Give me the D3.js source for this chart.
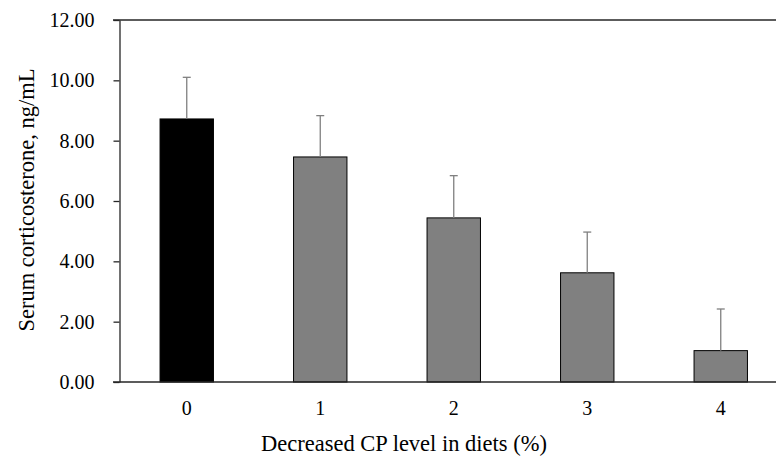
<!DOCTYPE html>
<html>
<head>
<meta charset="utf-8">
<script src="https://cdn.jsdelivr.net/npm/d3@7"></script>
<style>
  body { margin: 0; background: #fff; }
  text { font-family: "Liberation Serif", "Times New Roman", serif; fill: #000; }
</style>
</head>
<body>
<div id="chart"></div>
<script>
const categories = ['0', '1', '2', '3', '4'];
const means = [8.72, 7.46, 5.44, 3.62, 1.04];
const errors = [1.38, 1.37, 1.40, 1.35, 1.38];
const yTicks = [0, 2, 4, 6, 8, 10, 12];

const width = 776;
const height = 458;
const axisColor = '#262626';
const errColor = '#808080';
const fontSize = '20px';
const titleSize = '22.5px';

const svg = d3.select('#chart')
  .append('svg')
  .attr('width', width)
  .attr('height', height);

const xScale = d3.scaleBand()
  .domain(categories)
  .range([120, 787.5])
  .paddingInner(0.6)
  .paddingOuter(0.3);

const yScale = d3.scaleLinear()
  .domain([0, 12])
  .range([382, 20]);

// top border line at 12
svg.append('line')
  .attr('x1', 113)
  .attr('x2', width)
  .attr('y1', yScale(12))
  .attr('y2', yScale(12))
  .attr('stroke', axisColor)
  .attr('stroke-width', 1.3);

// bars
svg.append('g')
  .selectAll('rect')
  .data(means)
  .join('rect')
  .attr('x', (d, i) => xScale(categories[i]))
  .attr('y', d => yScale(d))
  .attr('width', xScale.bandwidth())
  .attr('height', d => yScale(0) - yScale(d))
  .attr('fill', (d, i) => i === 0 ? '#000000' : '#808080')
  .attr('stroke', '#000')
  .attr('stroke-width', 1);

// error bars (upper only)
const errGroup = svg.append('g')
  .attr('stroke', errColor)
  .attr('stroke-width', 1.3);

means.forEach((m, i) => {
  const cx = xScale(categories[i]) + xScale.bandwidth() / 2;
  errGroup.append('line')
    .attr('x1', cx).attr('x2', cx)
    .attr('y1', yScale(m)).attr('y2', yScale(m + errors[i]));
  errGroup.append('line')
    .attr('x1', cx - 4).attr('x2', cx + 4)
    .attr('y1', yScale(m + errors[i])).attr('y2', yScale(m + errors[i]));
});

// y axis
const yAxis = svg.append('g')
  .attr('transform', 'translate(119.5,0)')
  .call(d3.axisLeft(yScale).tickValues(yTicks).tickSize(6).tickSizeOuter(0).tickFormat(d3.format('.2f')));
yAxis.select('.domain').attr('stroke', axisColor).attr('stroke-width', 1.3);
yAxis.selectAll('line').attr('stroke', axisColor).attr('stroke-width', 1.3);
yAxis.selectAll('text')
  .attr('x', -25)
  .style('font-size', fontSize)
  .style('font-family', '"Liberation Serif", serif')
  .attr('fill', '#000');

// x axis
const xAxis = svg.append('g')
  .attr('transform', `translate(0,${yScale(0)})`)
  .call(d3.axisBottom(xScale).tickSize(0).tickSizeOuter(0));
xAxis.select('.domain').remove();
svg.append('line')
  .attr('x1', 113)
  .attr('x2', width)
  .attr('y1', yScale(0))
  .attr('y2', yScale(0))
  .attr('stroke', axisColor)
  .attr('stroke-width', 1.3);
xAxis.selectAll('text')
  .attr('y', 19)
  .style('font-size', fontSize)
  .style('font-family', '"Liberation Serif", serif')
  .attr('fill', '#000');

// axis titles
svg.append('text')
  .attr('x', 404)
  .attr('y', 451)
  .attr('text-anchor', 'middle')
  .style('font-size', titleSize)
  .text('Decreased CP level in diets (%)');

svg.append('text')
  .attr('transform', 'translate(34,200) rotate(-90)')
  .attr('text-anchor', 'middle')
  .style('font-size', titleSize)
  .text('Serum corticosterone, ng/mL');
</script>
</body>
</html>
